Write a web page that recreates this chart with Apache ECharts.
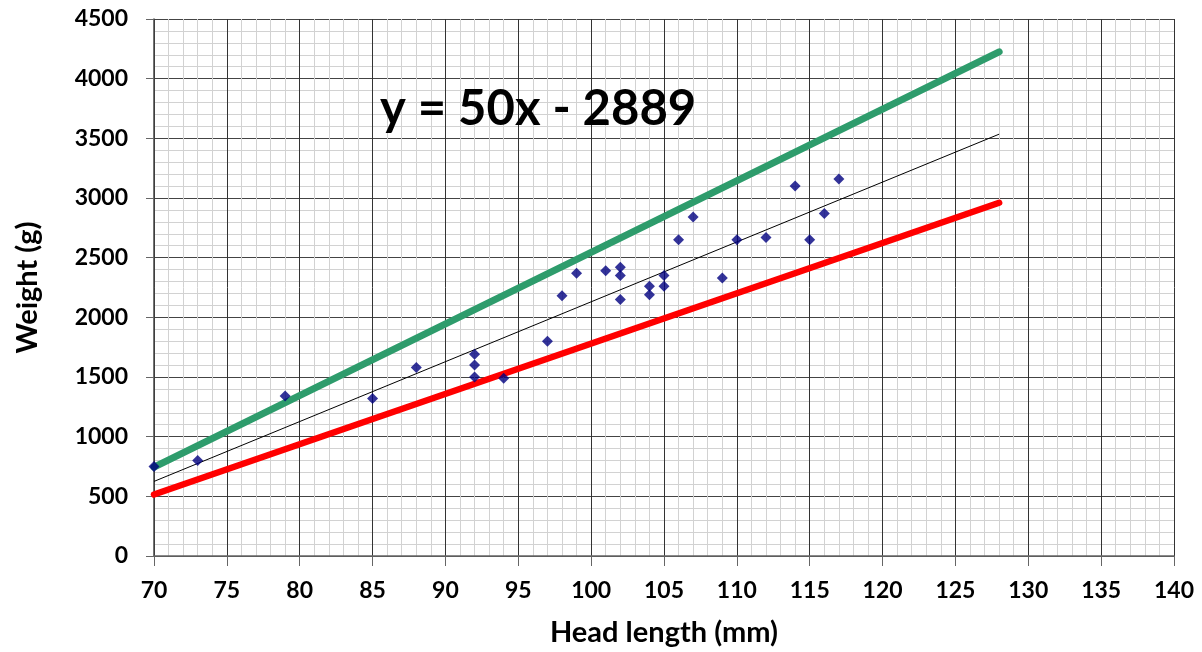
<!DOCTYPE html>
<html>
<head>
<meta charset="utf-8">
<script src="https://cdn.jsdelivr.net/npm/echarts@6/dist/echarts.min.js"></script>
<style>html,body{margin:0;padding:0;background:#fff}#c{width:1202px;height:652px}</style>
</head>
<body>
<div id="c"></div>
<script>
// Data
const headLength = [70, 73, 79, 85, 88, 92, 92, 92, 94, 97, 98, 99, 101, 102, 102, 102, 104, 104, 105, 105, 106, 107, 109, 110, 112, 114, 115, 116, 117];
const weight     = [750, 800, 1340, 1320, 1580, 1690, 1600, 1500, 1490, 1800, 2180, 2370, 2390, 2420, 2350, 2150, 2260, 2190, 2350, 2260, 2650, 2840, 2330, 2650, 2670, 3100, 2650, 2870, 3160];
const trendLine  = [[70, 625], [128, 3535]];
const upperLine  = [[70, 745], [128, 4225]];
const lowerLine  = [[70, 515], [128, 2960]];
const equationText = 'y = 50x - 2889';
const xAxisTitle = 'Head length (mm)';
const yAxisTitle = 'Weight (g)';

const points = headLength.map((x, i) => [x, weight[i]]);
const FONT = 'Lato, "Open Sans", sans-serif';

const chart = echarts.init(document.getElementById('c'), null, {renderer: 'canvas'});
chart.setOption({
  animation: false,
  backgroundColor: '#fff',
  title: {
    text: equationText,
    left: 375, top: 80,
    textStyle: {fontFamily: FONT, fontWeight: 'bold', fontSize: 49, color: '#000'}
  },
  grid: {left: 154, right: 28, top: 19, bottom: 94},
  xAxis: {
    type: 'value', min: 70, max: 140, interval: 5,
    name: xAxisTitle, nameLocation: 'middle', nameGap: 62,
    nameTextStyle: {fontFamily: FONT, fontWeight: 'bold', fontSize: 29, color: '#000'},
    axisLine: {show: true, lineStyle: {color: '#666', width: 1.5}},
    axisTick: {show: true, length: 10, lineStyle: {color: '#666'}},
    axisLabel: {margin: 23, fontFamily: FONT, fontWeight: 'bold', fontSize: 23, color: '#000',
                formatter: v => String(v)},
    splitLine: {show: true, lineStyle: {color: '#333', width: 1}},
    minorTick: {show: false, splitNumber: 5},
    minorSplitLine: {show: true, lineStyle: {color: '#d2d2d2', width: 1}}
  },
  yAxis: {
    type: 'value', min: 0, max: 4500, interval: 500,
    name: yAxisTitle, nameLocation: 'middle', nameGap: 112, nameRotate: 90,
    nameTextStyle: {fontFamily: FONT, fontWeight: 'bold', fontSize: 29, color: '#000'},
    axisLine: {show: true, lineStyle: {color: '#444', width: 1.5}},
    axisTick: {show: true, length: 8, lineStyle: {color: '#666'}},
    axisLabel: {margin: 26, fontFamily: FONT, fontWeight: 'bold', fontSize: 23, color: '#000',
                formatter: v => String(v)},
    splitLine: {show: true, lineStyle: {color: '#444', width: 1}},
    minorTick: {show: false, splitNumber: 5},
    minorSplitLine: {show: true, lineStyle: {color: '#d2d2d2', width: 1}}
  },
  series: [
    {type: 'line', data: upperLine, symbol: 'none', z: 3,
     lineStyle: {color: '#2E9C6C', width: 7, cap: 'round'}},
    {type: 'line', data: lowerLine, symbol: 'none', z: 3,
     lineStyle: {color: '#FF0000', width: 6.5, cap: 'round'}},
    {type: 'line', data: trendLine, symbol: 'none', z: 4,
     lineStyle: {color: '#000', width: 1}},
    {type: 'scatter', data: points, symbol: 'diamond', symbolSize: 11, z: 5,
     itemStyle: {color: '#000080'}}
  ]
});
</script>
</body>
</html>
